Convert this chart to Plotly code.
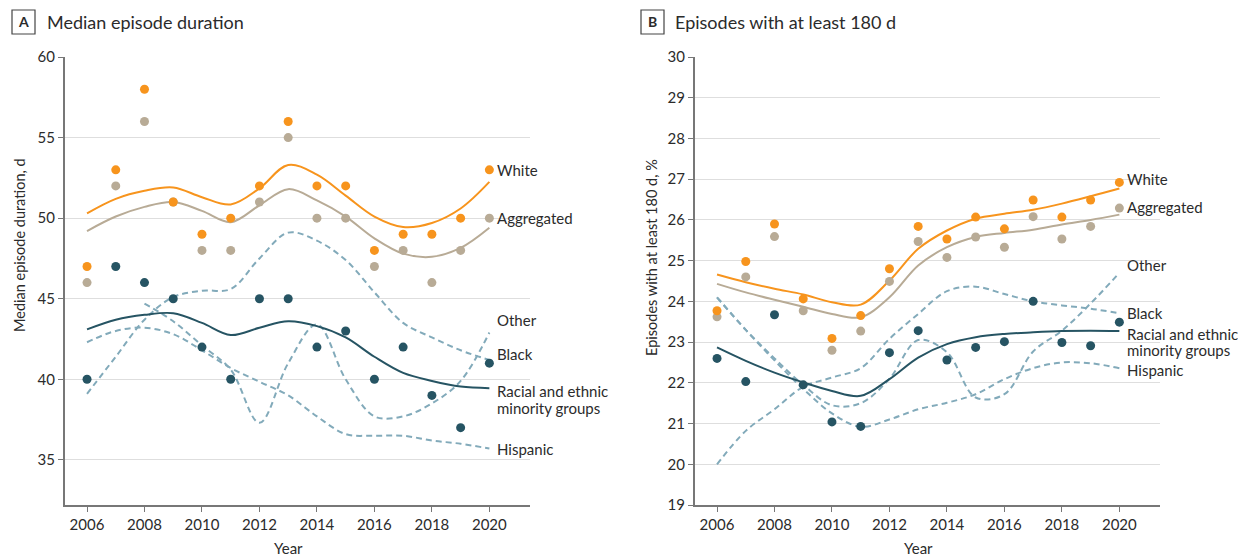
import plotly.graph_objects as go

W, H = 1238, 557

years = list(range(2006, 2021))
years_other_a = list(range(2008, 2021))
xticks = [2006, 2008, 2010, 2012, 2014, 2016, 2018, 2020]

# ---------------- Panel A: median episode duration (d) ----------------
a_white_pts = [47, 53, 58, 51, 49, 50, 52, 56, 52, 52, 48, 49, 49, 50, 53]
a_agg_pts = [46, 52, 56, 51, 48, 48, 51, 55, 50, 50, 47, 48, 46, 48, 50]
a_min_pts = [40, 47, 46, 45, 42, 40, 45, 45, 42, 43, 40, 42, 39, 37, 41]
a_white_fit = [50.3, 51.2, 51.7, 51.9, 51.3, 50.85, 51.85, 53.3, 52.7, 51.4, 50.1, 49.45, 49.7, 50.6, 52.25]
a_agg_fit = [49.2, 50.1, 50.7, 51.0, 50.45, 49.75, 50.8, 51.8, 51.1, 50.1, 48.75, 47.8, 47.6, 48.15, 49.4]
a_min_fit = [43.1, 43.7, 44.0, 44.1, 43.5, 42.75, 43.2, 43.6, 43.3, 42.6, 41.4, 40.4, 39.9, 39.55, 39.45]
a_black = [39.1, 41.4, 43.7, 45.1, 45.5, 45.6, 47.5, 49.1, 48.6, 47.4, 45.4, 43.5, 42.6, 41.8, 41.2]
a_hisp = [42.3, 43.0, 43.2, 42.8, 41.8, 40.7, 39.85, 39.0, 37.7, 36.6, 36.5, 36.5, 36.2, 36.0, 35.7]
a_other = [44.7, 43.6, 42.1, 40.6, 37.3, 41.0, 43.4, 40.0, 37.7, 37.7, 38.5, 39.9, 42.9]

# ---------------- Panel B: episodes with at least 180 d (%) ----------------
b_white_pts = [23.77, 24.98, 25.9, 24.06, 23.09, 23.65, 24.8, 25.84, 25.53, 26.07, 25.78, 26.49, 26.07, 26.49, 26.92]
b_agg_pts = [23.62, 24.6, 25.59, 23.77, 22.8, 23.27, 24.49, 25.47, 25.08, 25.58, 25.33, 26.08, 25.53, 25.84, 26.29]
b_min_pts = [22.6, 22.03, 23.67, 21.95, 21.04, 20.93, 22.74, 23.28, 22.56, 22.87, 23.01, 24.0, 22.99, 22.91, 23.49]
b_white_fit = [24.66, 24.47, 24.31, 24.17, 23.98, 23.92, 24.51, 25.29, 25.74, 26.03, 26.15, 26.25, 26.4, 26.58, 26.77]
b_agg_fit = [24.43, 24.22, 24.04, 23.87, 23.69, 23.61, 24.1, 24.88, 25.33, 25.58, 25.68, 25.76, 25.89, 26.0, 26.13]
b_min_fit = [22.87, 22.54, 22.25, 22.01, 21.8, 21.68, 22.09, 22.62, 22.95, 23.12, 23.2, 23.24, 23.27, 23.28, 23.27]
b_black = [20.0, 20.82, 21.35, 21.9, 22.13, 22.36, 23.08, 23.69, 24.25, 24.36, 24.18, 24.0, 23.9, 23.82, 23.71]
b_hisp = [24.1, 23.3, 22.55, 21.85, 21.25, 20.92, 21.1, 21.35, 21.51, 21.72, 22.09, 22.36, 22.5, 22.48, 22.36]
b_other = [24.1, 23.3, 22.6, 21.95, 21.45, 21.5, 22.1, 23.05, 22.75, 21.64, 21.72, 22.77, 23.28, 23.95, 24.7]

# end labels: (text, y value)
a_labels = [("White", 53.0), ("Aggregated", 50.0), ("Other", 43.67), ("Black", 41.55),
            ("Racial and ethnic", 39.28), ("minority groups", 38.23), ("Hispanic", 35.65)]
b_labels = [("White", 27.0), ("Aggregated", 26.31), ("Other", 24.9), ("Black", 23.72),
            ("Racial and ethnic", 23.21), ("minority groups", 22.81), ("Hispanic", 22.32)]

C_WHITE = "#F7941D"
C_AGG = "#B8AB96"
C_MIN = "#265463"
C_DASH = "#82AABA"
TXT = "#2b2b2b"
FONT = "Lato"

fig = go.Figure()


def add_panel(xa, ya, white_pts, agg_pts, min_pts, white_fit, agg_fit, min_fit,
              black, hisp, other, other_years):
    for vals, xs in ((black, years), (hisp, years), (other, other_years)):
        fig.add_trace(go.Scatter(x=xs, y=vals, mode="lines", xaxis=xa, yaxis=ya,
                                 line=dict(color=C_DASH, width=2, dash="6px,4px",
                                           shape="spline", smoothing=1.0),
                                 hoverinfo="skip", showlegend=False))
    for vals, col in ((min_fit, C_MIN), (agg_fit, C_AGG), (white_fit, C_WHITE)):
        fig.add_trace(go.Scatter(x=years, y=vals, mode="lines", xaxis=xa, yaxis=ya,
                                 line=dict(color=col, width=2, shape="spline", smoothing=1.0),
                                 hoverinfo="skip", showlegend=False))
    for vals, col in ((min_pts, C_MIN), (agg_pts, C_AGG), (white_pts, C_WHITE)):
        fig.add_trace(go.Scatter(x=years, y=vals, mode="markers", xaxis=xa, yaxis=ya,
                                 marker=dict(color=col, size=9, line=dict(width=0)),
                                 showlegend=False))


add_panel("x", "y", a_white_pts, a_agg_pts, a_min_pts, a_white_fit, a_agg_fit, a_min_fit,
          a_black, a_hisp, a_other, years_other_a)
add_panel("x2", "y2", b_white_pts, b_agg_pts, b_min_pts, b_white_fit, b_agg_fit, b_min_fit,
          b_black, b_hisp, b_other, years)


def px_x(p):
    return p / W


def px_y(p):
    return 1 - p / H


ydom = [px_y(505), px_y(57)]
axis_common = dict(showline=True, linecolor="#777777", linewidth=1.5, ticks="outside",
                   ticklen=5, tickwidth=1.2, tickcolor="#777777", zeroline=False,
                   automargin=False, tickfont=dict(family=FONT, size=15, color=TXT))

fig.update_layout(
    width=W, height=H, autosize=False,
    margin=dict(l=0, r=0, t=0, b=0, pad=0, autoexpand=False),
    plot_bgcolor="white", paper_bgcolor="white",
    font=dict(family=FONT, size=15, color=TXT),
    xaxis=dict(domain=[px_x(64.6), px_x(529.6)], range=[2005.22, 2021.4], tickvals=xticks,
               showgrid=False, anchor="y", **axis_common),
    yaxis=dict(domain=ydom, range=[32.2, 60], tickvals=[35, 40, 45, 50, 55, 60],
               showgrid=True, gridcolor="#dedede", gridwidth=1.2, anchor="x", **axis_common),
    xaxis2=dict(domain=[px_x(694.6), px_x(1159.6)], range=[2005.22, 2021.4], tickvals=xticks,
                showgrid=False, anchor="y2", **axis_common),
    yaxis2=dict(domain=ydom, range=[19, 30], tickvals=list(range(19, 31)),
                showgrid=True, gridcolor="#dedede", gridwidth=1.2, anchor="x2", **axis_common),
)

ann = []
for xref, yref, labels in (("x", "y", a_labels), ("x2", "y2", b_labels)):
    for text, yv in labels:
        ann.append(dict(x=2020, y=yv, xref=xref, yref=yref, text=text, showarrow=False,
                        xanchor="left", yanchor="middle", xshift=6, align="left",
                        font=dict(family=FONT, size=15, color=TXT)))

# panel titles with boxed letters
for letter, bx0, bx1, title, tx in (("A", 12, 35, "Median episode duration", 45),
                                     ("B", 641, 664, "Episodes with at least 180 d", 673)):
    fig.add_shape(type="rect", xref="paper", yref="paper", x0=px_x(bx0), x1=px_x(bx1),
                  y0=px_y(34), y1=px_y(10), line=dict(color="#444444", width=1.2))
    ann.append(dict(x=px_x((bx0 + bx1) / 2), y=px_y(22), xref="paper", yref="paper",
                    text="<b>" + letter + "</b>", showarrow=False, xanchor="center",
                    yanchor="middle", font=dict(family=FONT, size=14, color=TXT)))
    ann.append(dict(x=px_x(tx), y=px_y(22), xref="paper", yref="paper", text=title,
                    showarrow=False, xanchor="left", yanchor="middle",
                    font=dict(family=FONT, size=18, color=TXT)))

# axis titles
ann.append(dict(x=px_x(20), y=px_y(245), xref="paper", yref="paper",
                text="Median episode duration, d", textangle=-90, showarrow=False,
                xanchor="center", yanchor="middle", font=dict(family=FONT, size=14.5, color=TXT)))
ann.append(dict(x=px_x(651), y=px_y(258), xref="paper", yref="paper",
                text="Episodes with at least 180 d, %", textangle=-90, showarrow=False,
                xanchor="center", yanchor="middle", font=dict(family=FONT, size=14.5, color=TXT)))
ann.append(dict(x=2013, y=px_y(548), xref="x", yref="paper", text="Year", showarrow=False,
                xanchor="center", yanchor="middle", font=dict(family=FONT, size=15, color=TXT)))
ann.append(dict(x=2013, y=px_y(548), xref="x2", yref="paper", text="Year", showarrow=False,
                xanchor="center", yanchor="middle", font=dict(family=FONT, size=15, color=TXT)))

fig.update_layout(annotations=ann)

POST = ("document.documentElement.style.margin='0';"
        "document.body.style.margin='0';document.body.style.padding='0';"
        "document.body.style.overflow='hidden';"
        "var gd=document.getElementById('{plot_id}');"
        "gd.style.position='fixed';gd.style.left='0px';gd.style.top='0px';")

fig.write_html("out.html", config={"displayModeBar": False}, post_script=POST)
